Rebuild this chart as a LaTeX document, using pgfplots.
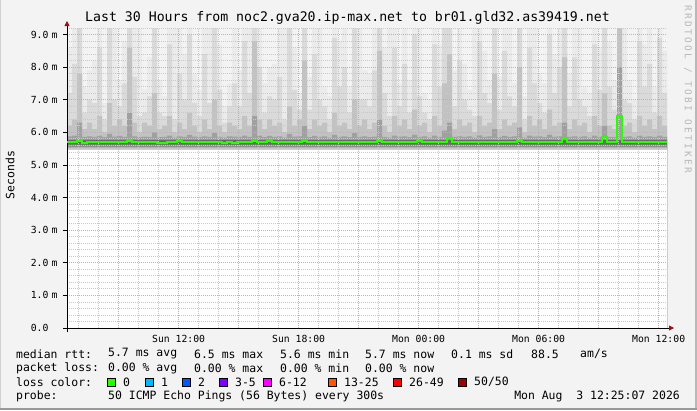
\documentclass[border=0pt]{standalone}
\usepackage{fontspec}
\usepackage{pgfplots}
\pgfplotsset{compat=1.18}
\usepackage{pgfplotstable}
\usetikzlibrary{arrows.meta}
\newfontfamily\mono{DejaVu Sans Mono}
\newfontfamily\wmfont[LetterSpace=25]{DejaVu Sans Mono}
\newcommand\legfont{\mono\fontsize{11.5}{13}\selectfont}
\newcommand\tickfont{\mono\fontsize{9.8}{11}\selectfont}

\definecolor{bg}{HTML}{F3F3F3}
\definecolor{majgrid}{HTML}{E6A0A0}
\definecolor{mingrid}{HTML}{C8C8C8}
\definecolor{arrowred}{HTML}{9A1010}
\definecolor{s1}{HTML}{EBEBEB}
\definecolor{s2}{HTML}{DADADA}
\definecolor{s3}{HTML}{C2C2C2}
\definecolor{s4}{HTML}{A0A0A0}
\definecolor{s5}{HTML}{6A6A6A}
\definecolor{s6}{HTML}{8E8E8E}
\definecolor{s7}{HTML}{C6C6C6}
\definecolor{medgreen}{HTML}{26FF00}
\definecolor{lc0}{HTML}{26FF00}
\definecolor{lc1}{HTML}{00B8FF}
\definecolor{lc2}{HTML}{0059FF}
\definecolor{lc3}{HTML}{7E00FF}
\definecolor{lc4}{HTML}{FF00FF}
\definecolor{lc5}{HTML}{FF5500}
\definecolor{lc6}{HTML}{FF0000}
\definecolor{lc7}{HTML}{A10000}

% smoke layers (ms), x = hours since Sun 00:00, one row per 15 min
\pgfplotstableread{
x l1 l2 l3 l4 med
6.4167 8.6 7.2 6.2 5.88 5.70
6.6667 9.2 8.1 6.4 5.90 5.70
6.9167 9.2 9.2 7.8 6.30 5.72
7.1667 7.4 6.6 6.1 5.86 5.68
7.4167 7.9 7.0 6.3 5.88 5.70
7.6667 8.2 6.9 6.1 5.86 5.70
7.9167 9.2 8.6 6.5 5.90 5.70
8.1667 6.9 6.4 6.0 5.85 5.69
8.4167 9.2 9.2 6.9 5.95 5.71
8.6667 9.2 7.0 6.2 5.87 5.70
8.9167 7.6 6.8 6.4 5.89 5.70
9.1667 8.8 7.5 6.2 5.86 5.70
9.4167 9.2 9.2 8.6 6.60 5.72
9.6667 9.2 7.7 6.3 5.88 5.70
9.9167 9.2 6.5 6.0 5.85 5.69
10.1667 7.3 6.6 6.3 5.87 5.70
10.4167 8.3 7.1 6.2 5.86 5.70
10.6667 9.2 9.2 7.2 6.00 5.70
10.9167 7.6 6.6 6.1 5.85 5.66
11.1667 7.1 6.5 6.2 5.86 5.67
11.4167 9.2 8.7 6.5 5.90 5.70
11.6667 9.2 6.4 6.0 5.84 5.70
11.9167 9.2 7.8 6.3 5.88 5.72
12.1667 8.4 7.0 6.1 5.86 5.70
12.4167 9.2 9.0 6.6 5.92 5.70
12.6667 7.8 6.9 6.2 5.87 5.69
12.9167 7.3 6.5 6.0 5.85 5.70
13.1667 9.2 8.4 6.4 5.88 5.70
13.4167 9.2 6.9 6.1 5.86 5.70
13.6667 9.2 9.2 7.0 5.98 5.71
13.9167 8.7 7.3 6.2 5.86 5.70
14.1667 6.8 6.3 6.0 5.84 5.68
14.4167 7.5 6.8 6.3 5.88 5.70
14.6667 9.2 7.5 6.2 5.87 5.66
14.9167 7.9 6.8 6.1 5.86 5.70
15.1667 9.2 8.8 6.5 5.90 5.70
15.4167 9.2 7.2 6.2 5.86 5.70
15.6667 9.2 9.2 8.8 6.50 5.73
15.9167 9.2 8.0 6.4 5.90 5.70
16.1667 7.5 6.6 6.1 5.85 5.70
16.4167 8.0 7.1 6.4 5.89 5.72
16.6667 8.1 7.0 6.2 5.86 5.70
16.9167 9.2 7.7 6.3 5.88 5.70
17.1667 9.2 6.4 6.0 5.84 5.70
17.4167 9.2 9.2 6.8 5.95 5.70
17.6667 8.6 7.3 6.2 5.87 5.71
17.9167 7.2 6.7 6.4 5.88 5.70
18.1667 9.2 9.2 8.2 6.20 5.72
18.4167 7.7 6.7 6.1 5.85 5.70
18.6667 9.2 8.4 6.4 5.89 5.70
18.9167 9.2 7.0 6.2 5.86 5.70
19.1667 7.4 6.8 6.3 5.88 5.70
19.4167 7.1 6.4 6.0 5.84 5.70
19.6667 9.2 8.9 6.6 5.92 5.71
19.9167 8.8 7.4 6.2 5.86 5.70
20.1667 9.2 8.0 6.3 5.88 5.70
20.4167 7.4 6.6 6.1 5.85 5.69
20.6667 9.2 9.2 7.0 5.98 5.70
20.9167 9.2 7.0 6.2 5.86 5.70
21.1667 7.9 7.0 6.4 5.88 5.70
21.4167 7.8 6.8 6.1 5.85 5.70
21.6667 9.2 7.9 6.3 5.87 5.71
21.9167 9.2 9.2 8.5 6.40 5.72
22.1667 8.6 7.2 6.2 5.86 5.70
22.4167 9.2 6.5 6.0 5.84 5.70
22.6667 9.2 8.6 6.5 5.90 5.70
22.9167 7.5 6.8 6.2 5.87 5.70
23.1667 9.2 8.1 6.4 5.88 5.69
23.4167 7.6 6.6 6.1 5.85 5.70
23.6667 9.2 9.0 6.7 5.93 5.70
23.9167 9.2 7.1 6.2 5.86 5.72
24.1667 7.2 6.6 6.3 5.88 5.70
24.4167 7.0 6.4 6.0 5.84 5.70
24.6667 9.2 8.7 6.5 5.90 5.70
24.9167 8.7 7.4 6.2 5.86 5.70
25.1667 9.2 9.2 7.5 6.05 5.71
25.4167 9.2 9.2 8.4 6.30 5.84
25.6667 7.9 6.8 6.1 5.86 5.70
25.9167 9.2 8.2 6.4 5.88 5.70
26.1667 8.1 7.0 6.2 5.86 5.70
26.4167 7.3 6.7 6.3 5.88 5.70
26.6667 9.2 6.5 6.0 5.84 5.69
26.9167 9.2 8.8 6.5 5.91 5.70
27.1667 8.5 7.2 6.2 5.86 5.70
27.4167 7.6 6.9 6.3 5.88 5.70
27.6667 9.2 9.2 7.8 6.10 5.71
27.9167 7.7 6.7 6.1 5.85 5.70
28.1667 9.2 8.5 6.4 5.89 5.70
28.4167 9.2 7.1 6.2 5.86 5.70
28.6667 7.5 6.8 6.3 5.88 5.70
28.9167 9.2 9.2 8.0 6.15 5.72
29.1667 7.1 6.4 6.0 5.84 5.70
29.4167 9.2 8.6 6.5 5.90 5.70
29.6667 9.2 7.5 6.2 5.87 5.70
29.9167 7.8 6.9 6.4 5.88 5.69
30.1667 7.5 6.6 6.1 5.85 5.70
30.4167 9.2 9.0 6.7 5.93 5.70
30.6667 8.4 7.2 6.2 5.86 5.70
30.9167 9.2 8.0 6.3 5.88 5.70
31.1667 9.2 9.2 8.3 6.30 5.79
31.4167 7.8 6.8 6.1 5.86 5.70
31.6667 9.2 8.3 6.4 5.88 5.70
31.9167 9.2 7.0 6.2 5.86 5.70
32.1667 7.4 6.8 6.3 5.88 5.70
32.4167 7.2 6.5 6.0 5.84 5.70
32.6667 9.2 8.7 6.5 5.90 5.70
32.9167 8.6 7.3 6.2 5.86 5.70
33.1667 9.2 9.2 7.2 6.20 5.85
33.4167 8.8 7.4 6.2 5.86 5.70
33.6667 7.6 6.7 6.1 5.85 5.70
33.9167 9.2 9.2 9.2 8.00 6.50
34.1667 9.2 7.0 6.2 5.86 5.70
34.4167 7.6 6.9 6.3 5.88 5.70
34.6667 7.0 6.4 6.0 5.84 5.70
34.9167 9.2 8.8 6.5 5.90 5.70
35.1667 8.7 7.4 6.2 5.86 5.70
35.4167 9.2 8.1 6.4 5.88 5.70
35.6667 7.4 6.6 6.1 5.85 5.70
35.9167 9.2 8.9 6.5 5.90 5.70
36.1667 8.5 7.2 6.2 5.86 5.70
36.4167 8.5 7.2 6.2 5.86 5.70
}\smoke

\begin{document}
\begin{tikzpicture}[x=1bp,y=1bp]
\fill[bg] (0,0) rectangle (697,410);
\draw[line width=1bp, color=black!18] (0.5,0) -- (0.5,410);
\draw[line width=2bp, color=black!28] (696,0) -- (696,410);
\draw[line width=2bp, color=black!40] (0,1) -- (697,1);

\begin{axis}[
  at={(67bp,82bp)}, anchor=south west,
  scale only axis, width=600bp, height=300bp,
  set layers=axis on top,
  axis background/.style={fill=white},
  xmin=6.4167, xmax=36.4167, ymin=0, ymax=9.2,
  axis x line=bottom, axis y line=left,
  x axis line style={-{Triangle[length=5bp,width=5bp,color=arrowred]}, shorten >=-7bp, shorten <=-4bp, line width=0.8bp},
  y axis line style={-{Triangle[length=5bp,width=5bp,color=arrowred]}, shorten >=-7bp, shorten <=-4bp, line width=0.8bp},
  xtick={9,12,...,36},
  xticklabels={,Sun 12:00,,Sun 18:00,,Mon 00:00,,Mon 06:00,,Mon 12:00},
  minor xtick={7,8,...,36},
  ytick={0,1,...,9},
  yticklabels={0.0,1.0 m,2.0 m,3.0 m,4.0 m,5.0 m,6.0 m,7.0 m,8.0 m,9.0 m},
  minor ytick={0.2,0.4,0.6,0.8,1.2,1.4,1.6,1.8,2.2,2.4,2.6,2.8,3.2,3.4,3.6,3.8,4.2,4.4,4.6,4.8,5.2,5.4,5.6,5.8,6.2,6.4,6.6,6.8,7.2,7.4,7.6,7.8,8.2,8.4,8.6,8.8,9.2},
  grid=both,
  major grid style={draw=majgrid, dash pattern=on 1bp off 1bp, line width=0.8bp},
  minor grid style={draw=mingrid, dash pattern=on 1bp off 1bp, line width=0.8bp},
  tick align=outside, major tick length=4bp, minor tick length=0bp,
  xtick style={draw=none},
  ytick style={draw=black, line width=0.8bp},
  xticklabel style={font=\tickfont},
  yticklabel style={font=\tickfont, text width=30bp, align=left, anchor=east, inner sep=0pt, xshift=-2bp},
]
\addplot[const plot, fill=s1, draw=none] table[x=x, y=l1] {\smoke} \closedcycle;
\addplot[const plot, fill=s2, draw=none] table[x=x, y=l2] {\smoke} \closedcycle;
\addplot[const plot, fill=s3, draw=none] table[x=x, y=l3] {\smoke} \closedcycle;
\addplot[const plot, fill=s4, draw=none] table[x=x, y=l4] {\smoke} \closedcycle;
\addplot[const plot, fill=s5, draw=none] coordinates {(6.4167,5.77) (36.4167,5.77)} \closedcycle;
\addplot[const plot, fill=s6, draw=none] coordinates {(6.4167,5.62) (36.4167,5.62)} \closedcycle;
\addplot[const plot, fill=s7, draw=none] coordinates {(6.4167,5.54) (36.4167,5.54)} \closedcycle;
\addplot[const plot, fill=white, draw=none] coordinates {(6.4167,5.46) (36.4167,5.46)} \closedcycle;
\addplot[const plot, draw=medgreen, line width=2bp, on layer=axis foreground] table[x=x, y=med] {\smoke};
\end{axis}

\node[font=\mono\fontsize{13.25}{15}\selectfont] at (347.5,392) {Last 30 Hours from noc2.gva20.ip-max.net to br01.gld32.as39419.net};
\node[rotate=-90, anchor=west, inner sep=0pt, text=black!28, font=\wmfont\fontsize{9.5}{10}\selectfont] at (688,405) {RRDTOOL / TOBI OETIKER};
\node[rotate=90, font=\legfont] at (10,235) {Seconds};

\node[anchor=west, inner sep=0pt, font=\legfont] at (16,56) {median rtt:};
\node[anchor=west, inner sep=0pt, font=\legfont] at (108,56) {5.7 ms avg};
\node[anchor=west, inner sep=0pt, font=\legfont] at (194,56) {6.5 ms max};
\node[anchor=west, inner sep=0pt, font=\legfont] at (280,56) {5.6 ms min};
\node[anchor=west, inner sep=0pt, font=\legfont] at (365,56) {5.7 ms now};
\node[anchor=west, inner sep=0pt, font=\legfont] at (451,56) {0.1 ms sd};
\node[anchor=west, inner sep=0pt, font=\legfont] at (531,56) {88.5};
\node[anchor=west, inner sep=0pt, font=\legfont] at (580,56) {am/s};

\node[anchor=west, inner sep=0pt, font=\legfont] at (16,42) {packet loss:};
\node[anchor=west, inner sep=0pt, font=\legfont] at (108,42) {0.00 \% avg};
\node[anchor=west, inner sep=0pt, font=\legfont] at (194,42) {0.00 \% max};
\node[anchor=west, inner sep=0pt, font=\legfont] at (280,42) {0.00 \% min};
\node[anchor=west, inner sep=0pt, font=\legfont] at (365,42) {0.00 \% now};

\node[anchor=west, inner sep=0pt, font=\legfont] at (16,28) {loss color:};
\foreach \sx/\c/\t in {107/lc0/0, 145/lc1/1, 182/lc2/2, 219/lc3/3-5, 263/lc4/6-12, 328/lc5/13-25, 393/lc6/26-49, 458/lc7/{50/50}}{
  \filldraw[fill=\c, draw=black, line width=0.8bp] (\sx,24) rectangle ++(8,8);
  \node[anchor=west, inner sep=0pt, font=\legfont] at (\sx+16,28) {\t};
}

\node[anchor=west, inner sep=0pt, font=\legfont] at (16,14) {probe:};
\node[anchor=west, inner sep=0pt, font=\legfont] at (108,14) {50 ICMP Echo Pings (56 Bytes) every 300s};
\node[anchor=east, inner sep=0pt, font=\legfont] at (680,14) {Mon Aug\ \ 3 12:25:07 2026};
\pgfresetboundingbox
\useasboundingbox (0,0) rectangle (697,410);
\end{tikzpicture}
\end{document}
